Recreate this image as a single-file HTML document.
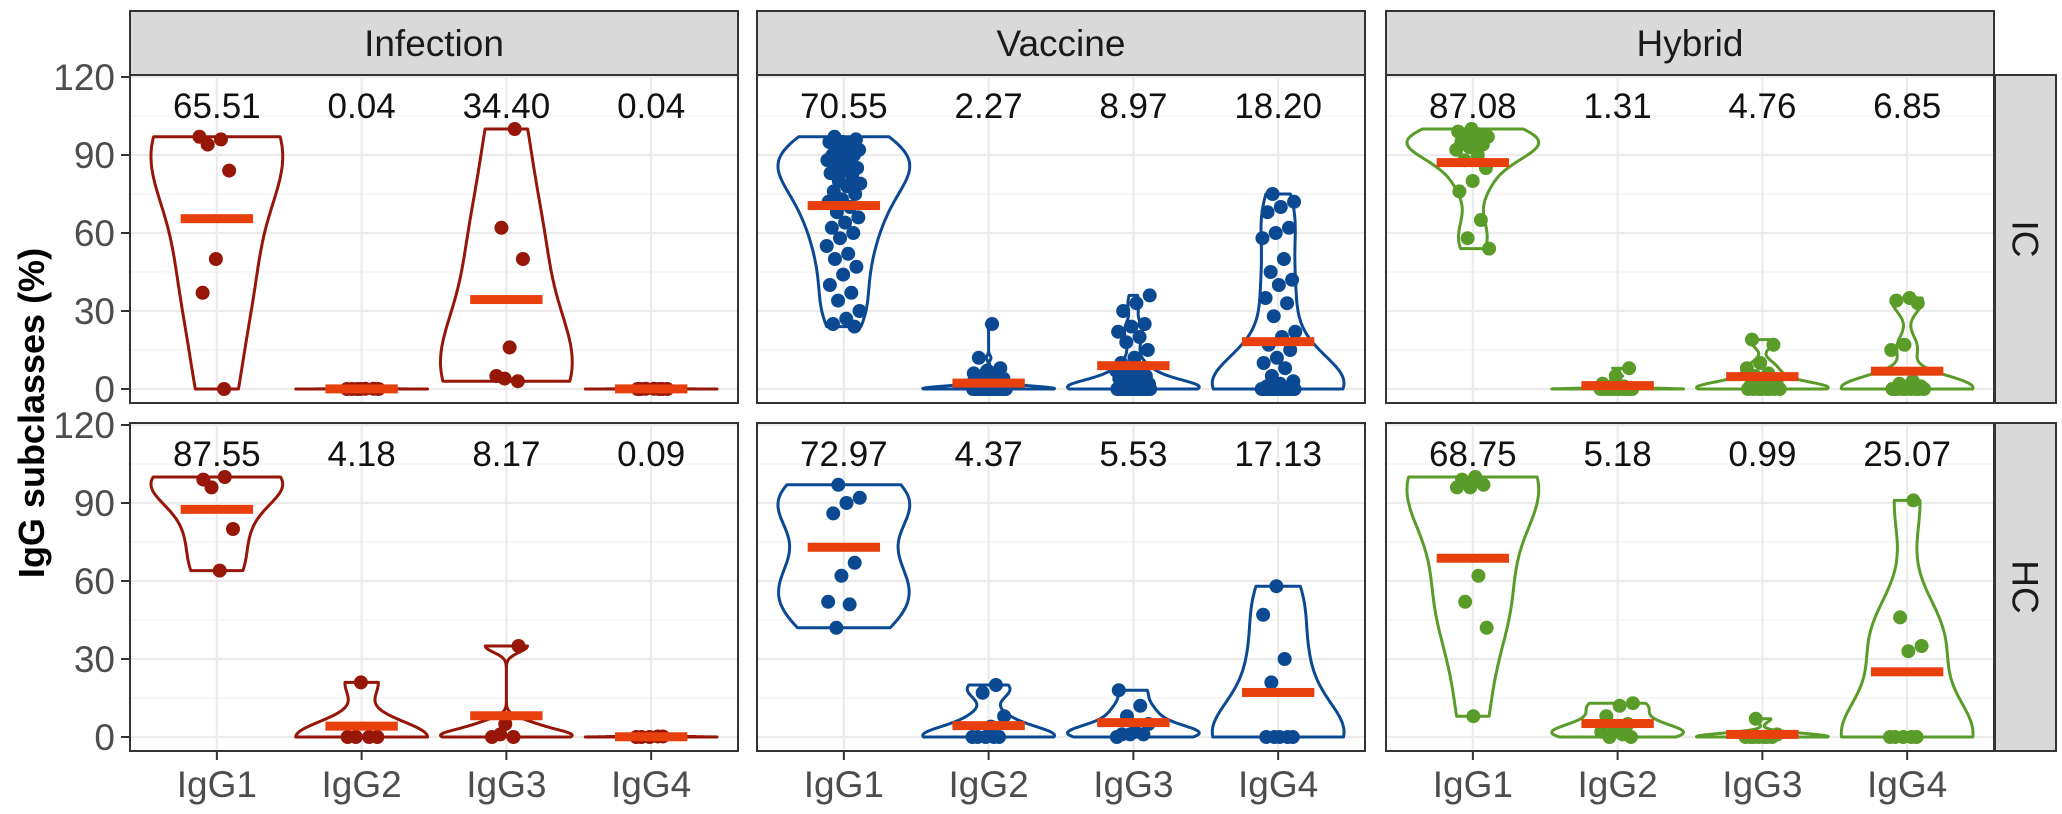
<!DOCTYPE html>
<html><head><meta charset="utf-8">
<style>
html,body{margin:0;padding:0;background:#fff;}
svg{display:block;}
text{font-family:"Liberation Sans",Arial,sans-serif;}
</style></head>
<body>
<svg id="chart" width="2062" height="814" viewBox="0 0 2062 814" xmlns="http://www.w3.org/2000/svg"></svg>
<script>
// ---- data ----
const groups = ["Infection","Vaccine","Hybrid"];
const rows = ["IC","HC"];
const subclasses = ["IgG1","IgG2","IgG3","IgG4"];
const yTicks = [0,30,60,90,120];
const groupColors = ["#961608","#0b4a93","#5a9c2a"];
// mean labels [row][group][subclass]
const meanLabels = [
  [["65.51","0.04","34.40","0.04"],["70.55","2.27","8.97","18.20"],["87.08","1.31","4.76","6.85"]],
  [["87.55","4.18","8.17","0.09"],["72.97","4.37","5.53","17.13"],["68.75","5.18","0.99","25.07"]]
];
// Infection IC
const infIC1=[97,96,94,84,50,37,0];
const infIC2=[0,0,0.1,0,0.1,0,0];
const infIC3=[100,62,50,16,5,3,4];
const infIC4=[0,0,0.1,0,0.1,0,0];
// Infection HC
const infHC1=[99,100,96,80,64];
const infHC2=[21,0,0,0,0];
const infHC3=[35,5,0,0,1];
const infHC4=[0,0.2,0,0,0.2];
// Vaccine IC
const vacIC1=[97,96,95,95,94,93,92,91,90,90,89,88,87,86,85,84,83,82,80,79,78,76,75,73,72,70,68,66,64,62,60,58,55,52,50,47,44,40,37,34,30,27,25,24];
const vacIC2=[25,12,8,7,6,5,5,4,4,3,3,3,2,2,2,1,1,1,1,0,0,0,0,0,0,0,0,0,0,0,0,0,0,0,0,0,0,0,0,0,0,0,0,0];
const vacIC3=[36,33,30,25,24,22,20,18,15,12,10,8,8,7,6,5,5,4,4,3,3,2,2,1,1,1,0,0,0,0,0,0,0,0,0,0,0,0,0,0,0,0,0,0];
const vacIC4=[75,72,70,68,62,60,58,50,45,42,40,35,33,28,22,20,17,15,12,10,8,5,3,2,1,0,0,0,0,0,0,0,0,0,0,0,0,0,0,0,0,0,0,0];
// Vaccine HC
const vacHC1=[97,92,90,86,67,62,52,51,42];
const vacHC2=[20,17,8,4,0,0,0,0,0];
const vacHC3=[18,12,8,5,2,1,1,1,0];
const vacHC4=[58,47,30,21,0,0,0,0,0];
// Hybrid IC
const hybIC1=[100,99,98,97,97,96,95,94,93,92,90,88,85,80,76,65,58,54];
const hybIC2=[8,5,2,1,1,0,0,0,0,0,0,0,0,0,0,0,0,0];
const hybIC3=[19,17,10,8,6,5,3,2,1,1,0,0,0,0,0,0,0,0];
const hybIC4=[35,34,33,17,15,3,2,1,1,0,0,0,0,0,0,0,0,0];
// Hybrid HC
const hybHC1=[100,99,97,96,96,62,52,42,8];
const hybHC2=[13,12,8,5,3,2,1,0,0];
const hybHC3=[7,1,0,0,0,0,0,0,0];
const hybHC4=[91,46,35,33,0,0,0,0,0];

const series = [
  [[infIC1,infIC2,infIC3,infIC4],[vacIC1,vacIC2,vacIC3,vacIC4],[hybIC1,hybIC2,hybIC3,hybIC4]],
  [[infHC1,infHC2,infHC3,infHC4],[vacHC1,vacHC2,vacHC3,vacHC4],[hybHC1,hybHC2,hybHC3,hybHC4]]
];

// ---- layout ----
const NS="http://www.w3.org/2000/svg";
const svg=document.getElementById('chart');
const panelX=[130,757,1386], panelW=608;
const rowTop=[75,423], rowBot=[403,751];
const y0=[389,737], unitPx=78/30;
const band=panelW/4.2;
function xScale(g,i){return panelX[g]+band*(0.6+i);}
function yScale(r,v){return y0[r]-v*unitPx;}
function mk(tag,attrs,parent){const e=document.createElementNS(NS,tag);for(const k in attrs)e.setAttribute(k,attrs[k]);(parent||svg).appendChild(e);return e;}

function mean(a){return a.reduce((s,v)=>s+v,0)/a.length;}
function sd(a){const m=mean(a);return Math.sqrt(a.reduce((s,v)=>s+(v-m)*(v-m),0)/(a.length-1));}
function quant(a,p){const s=[...a].sort((x,y)=>x-y);const h=(s.length-1)*p;const lo=Math.floor(h);return s[lo]+(s[Math.min(lo+1,s.length-1)]-s[lo])*(h-lo);}
function bw(a){const s=sd(a);const iqr=(quant(a,0.75)-quant(a,0.25))/1.34;let lo=Math.min(s,iqr);if(!(lo>0))lo=s;if(!(lo>0))lo=1;return 0.9*lo*Math.pow(a.length,-0.2);}

for(let r=0;r<2;r++){
  for(let g=0;g<3;g++){
    const px=panelX[g];
    const pg=mk('g',{});
    
    
    mk('rect',{x:px,y:rowTop[r],width:panelW,height:rowBot[r]-rowTop[r],fill:'#fff'},pg);
    for(let t=15;t<=120;t+=30){
      const l=mk('line',{x1:px,x2:px+panelW,y1:yScale(r,t),y2:yScale(r,t),stroke:'#f2f2f2','stroke-width':1.2},pg);
      
    }
    yTicks.forEach(t=>{
      const l=mk('line',{x1:px,x2:px+panelW,y1:yScale(r,t),y2:yScale(r,t),stroke:'#ebebeb','stroke-width':2.2},pg);
      
    });
    subclasses.forEach((s,i)=>{
      const l=mk('line',{x1:xScale(g,i),x2:xScale(g,i),y1:rowTop[r],y2:rowBot[r],stroke:'#ebebeb','stroke-width':2.2},pg);
      
    });
    const col=groupColors[g];
    subclasses.forEach((s,i)=>{
      const data=series[r][g][i];
      const cx=xScale(g,i);
      const mn=Math.min(...data), mx=Math.max(...data);
      const h=bw(data);
      const N=120; const pts=[]; let maxd=0;
      for(let k=0;k<=N;k++){
        const v=mn+(mx-mn)*k/N;
        let d=0; data.forEach(x=>{const z=(v-x)/h;d+=Math.exp(-0.5*z*z);});
        pts.push([v,d]); if(d>maxd)maxd=d;
      }
      const hw=band*0.455;
      let dstr='';
      if(mx-mn<1e-9){
        dstr=`M${cx-hw},${yScale(r,mn)}L${cx+hw},${yScale(r,mn)}`;
      } else {
        pts.forEach((p,k)=>{dstr+=(k?'L':'M')+(cx+hw*p[1]/maxd).toFixed(1)+','+yScale(r,p[0]).toFixed(1);});
        for(let k=pts.length-1;k>=0;k--){const p=pts[k];dstr+='L'+(cx-hw*p[1]/maxd).toFixed(1)+','+yScale(r,p[0]).toFixed(1);}
        dstr+='Z';
      }
      const vp=mk('path',{d:dstr,fill:'none',stroke:col,'stroke-width':3,'stroke-linejoin':'round'},pg);
      
      data.forEach((v,k)=>{
        const f=((k*0.61803+i*0.37+g*0.23+r*0.11)%1)*2-1;
        const jx=f*band*0.12;
        const c=mk('circle',{cx:cx+jx,cy:yScale(r,v),r:7,fill:col},pg);
        
      });
      const m=parseFloat(meanLabels[r][g][i]);
      const bar=mk('rect',{x:cx-band*0.25,y:yScale(r,m)-4.5,width:band*0.5,height:9,fill:'#e8400c'},pg);
      
      const lt=mk('text',{x:cx,y:rowTop[r]+43,'text-anchor':'middle','font-size':35,fill:'#111'},pg);
      lt.textContent=meanLabels[r][g][i];
      
    });
    const br=mk('rect',{x:px,y:rowTop[r],width:panelW,height:rowBot[r]-rowTop[r],fill:'none',stroke:'#333','stroke-width':2},pg);
    
  }
  const sg=mk('g',{});
  
  
  mk('rect',{x:1995,y:rowTop[r],width:61,height:rowBot[r]-rowTop[r],fill:'#d9d9d9',stroke:'#333','stroke-width':2},sg);
  const cy=(rowTop[r]+rowBot[r])/2;
  const st=mk('text',{x:2025,y:cy,'text-anchor':'middle','dominant-baseline':'central','font-size':37,fill:'#1a1a1a',transform:`rotate(90 2025 ${cy})`},sg);
  st.textContent=rows[r];
  yTicks.forEach(t=>{
    const yy=yScale(r,t);
    const tk=mk('line',{x1:121,x2:130,y1:yy,y2:yy,stroke:'#333','stroke-width':2});
    
    const tl=mk('text',{x:115,y:yy+13,'text-anchor':'end','font-size':37,fill:'#4d4d4d'});
    tl.textContent=t;
    
  });
}
for(let g=0;g<3;g++){
  const sg=mk('g',{});
  
  
  mk('rect',{x:panelX[g],y:11,width:panelW,height:64,fill:'#d9d9d9',stroke:'#333','stroke-width':2},sg);
  const t=mk('text',{x:panelX[g]+panelW/2,y:56,'text-anchor':'middle','font-size':37,fill:'#1a1a1a'},sg);
  t.textContent=groups[g];
  subclasses.forEach((s,i)=>{
    const x=xScale(g,i);
    const tk=mk('line',{x1:x,x2:x,y1:751,y2:760,stroke:'#333','stroke-width':2});
    
    const tl=mk('text',{x:x,y:797,'text-anchor':'middle','font-size':37,fill:'#4d4d4d'});
    tl.textContent=s;
    
  });
}
const yt=mk('text',{x:44,y:413,'text-anchor':'middle','font-size':36,'font-weight':'bold',fill:'#000',transform:'rotate(-90 44 413)'});
yt.textContent='IgG subclasses (%)';

</script>
</body></html>
